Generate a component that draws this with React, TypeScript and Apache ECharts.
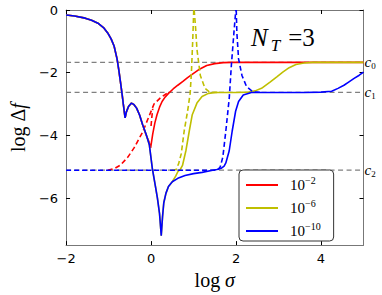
import React, { useEffect, useRef } from "react";
import * as echarts from "echarts";

const X_TICKS = [-2, 0, 2, 4];
const Y_TICKS = [0, -2, -4, -6];
const LEVELS = [-1.67, -2.63, -5.11];
const LEVEL_SUBS = ["0", "1", "2"];
const EXPONENTS = ["\u22122", "\u22126", "\u221210"];
const NAMES = ["10^-2", "10^-6", "10^-10"];
const COLORS = ["#ff0000", "#bfbf00", "#0000ff"];

// shared left part (blue curve, others lie beneath)
const sharedLeft: number[][] = [
  [-2, -0.16], [-1.8, -0.19], [-1.55, -0.26], [-1.4, -0.33], [-1.25, -0.42],
  [-1.12, -0.56], [-1.02, -0.73], [-0.94, -0.92], [-0.87, -1.15], [-0.8, -1.56],
  [-0.76, -1.9], [-0.72, -2.29], [-0.68, -2.7], [-0.65, -3.03], [-0.62, -3.35],
  [-0.61, -3.44], [-0.58, -3.25], [-0.53, -3.08], [-0.46, -2.97], [-0.4, -3.02],
  [-0.34, -3.13], [-0.27, -3.35], [-0.2, -3.65],
];

const redSolid: number[][] = [
  ...sharedLeft,
  [-0.12, -3.97], [-0.05, -4.2], [-0.01, -4.4], [0.04, -3.95], [0.09, -3.6],
  [0.14, -3.34], [0.2, -3.1], [0.26, -2.92], [0.33, -2.78], [0.41, -2.66],
  [0.52, -2.52], [0.63, -2.4], [0.75, -2.28], [0.86, -2.16], [1.0, -2.02],
  [1.15, -1.88], [1.31, -1.77], [1.5, -1.71], [1.7, -1.68], [1.9, -1.67],
  [2.5, -1.67], [5, -1.67],
];

const redDashed: number[][] = [
  [-1.02, -5.11], [-0.85, -5.05], [-0.72, -4.95], [-0.55, -4.7], [-0.4, -4.4],
  [-0.2, -3.9], [-0.05, -3.4], [0.07, -3.0], [0.22, -2.8], [0.37, -2.66],
];
const redDashed2: number[][] = [[0.0, -3.7], [0.02, -3.4], [0.04, -3.15]];

const blueMid: number[][] = [
  [-0.12, -3.95], [-0.04, -4.3], [0.03, -5.05], [0.1, -5.6], [0.15, -6.0],
  [0.2, -6.5], [0.24, -7.2], [0.27, -6.6], [0.3, -6.15], [0.35, -5.85],
  [0.41, -5.63], [0.5, -5.48],
];

const yellowSolid: number[][] = [
  ...sharedLeft, ...blueMid,
  [0.58, -5.3], [0.63, -5.16], [0.69, -5.08], [0.74, -4.96], [0.82, -4.49],
  [0.9, -3.86], [0.97, -3.34], [1.08, -2.97], [1.2, -2.76], [1.35, -2.66],
  [1.53, -2.63], [2.0, -2.63], [2.3, -2.62], [2.45, -2.58], [2.6, -2.5],
  [2.8, -2.3], [2.96, -2.13], [3.1, -1.98], [3.25, -1.84], [3.41, -1.74],
  [3.6, -1.69], [3.8, -1.67], [5, -1.67],
];

const yellowDashed: number[][] = [
  [0.5, -5.11], [0.59, -5.09], [0.65, -4.9], [0.71, -4.59], [0.78, -3.86],
  [0.86, -3.23], [0.92, -2.66], [0.95, -2.0], [0.98, -1.0], [1.005, 0],
];
const yellowDashed2: number[][] = [
  [1.015, 0], [1.05, -0.6], [1.08, -1.25], [1.16, -2.09], [1.27, -2.5],
  [1.38, -2.62], [1.6, -2.63],
];

const blueSolid: number[][] = [
  ...sharedLeft, ...blueMid,
  [0.63, -5.37], [0.8, -5.28], [1.0, -5.22], [1.2, -5.18], [1.42, -5.12],
  [1.55, -5.09], [1.65, -5.05], [1.72, -4.98], [1.76, -4.88], [1.84, -4.49],
  [1.91, -3.86], [1.99, -3.23], [2.06, -2.92], [2.17, -2.71], [2.36, -2.63],
  [3.0, -2.63], [3.6, -2.63], [4.0, -2.62], [4.25, -2.59], [4.4, -2.5],
  [4.54, -2.4], [4.65, -2.3], [4.77, -2.19], [4.9, -2.08], [5, -1.98],
];

const blueDashed: number[][] = [
  [-2, -5.11], [1.5, -5.11], [1.57, -5.1], [1.63, -5.0], [1.69, -4.69],
  [1.76, -3.86], [1.84, -2.82], [1.89, -1.77], [1.95, -0.73], [1.995, 0],
];
const blueDashed2: number[][] = [
  [2.005, 0], [2.02, -0.73], [2.06, -1.56], [2.14, -2.09], [2.25, -2.45],
  [2.4, -2.61], [2.6, -2.63],
];

const SERIF = "'Liberation Serif', 'DejaVu Serif', serif";
const SANS = "'DejaVu Sans', sans-serif";

const fmtTick = (v: number) => (v < 0 ? "\u2212" + Math.abs(v) : String(v));

export default function App() {
  const ref = useRef<HTMLDivElement>(null);
  useEffect(() => {
    if (!ref.current) return;
    const chart = echarts.init(ref.current, null, { renderer: "svg" });
    const dashT = [5, 3];
    const lw = 1.6;
    const solid = (name: string, data: number[][], color: string) => ({
      name, type: "line", data, symbol: "none", showSymbol: false,
      lineStyle: { color, width: lw }, itemStyle: { color, opacity: 0 },
    });
    const dashed = (name: string, data: number[][], color: string) => ({
      name, type: "line", data, symbol: "none", showSymbol: false,
      lineStyle: { color, width: lw, type: dashT }, itemStyle: { color },
    });
    const levelSeries = LEVELS.map((lv, i) => ({
      name: "c" + LEVEL_SUBS[i], type: "line", symbol: "none", showSymbol: false,
      data: [[-2, lv], [5, lv]],
      lineStyle: { color: "#808080", width: 1.3, type: [5, 3.5] },
      endLabel: {
        show: true, distance: 1,
        formatter: () => `{c|c}{s|${LEVEL_SUBS[i]}}`,
        rich: {
          c: { fontFamily: SERIF, fontStyle: "italic", fontSize: 15, color: "#000" },
          s: { fontFamily: SERIF, fontSize: 9, color: "#000", padding: [8, 0, 0, 0] },
        },
      },
      silent: true,
    }));
    const axisCommon = {
      type: "value", min: -2, max: 5,
      axisLine: { show: true, onZero: false, lineStyle: { color: "#777", width: 1 } },
      splitLine: { show: false },
    };
    const yCommon = {
      type: "value", min: -7.5, max: 0,
      axisLine: { show: true, onZero: false, lineStyle: { color: "#777", width: 1 } },
      splitLine: { show: false },
    };
    chart.setOption({
      animation: false,
      grid: { left: 53, right: 18.5, top: 10, bottom: 46, containLabel: false },
      xAxis: [
        {
          ...axisCommon, position: "bottom",
          axisTick: { show: true, inside: true, length: 4, customValues: X_TICKS, lineStyle: { color: "#000" } },
          axisLabel: { customValues: X_TICKS, formatter: fmtTick, fontFamily: SANS, fontSize: 13, color: "#000", margin: 7 },
          name: "{r|log }{i|σ}", nameLocation: "middle", nameGap: 17,
          nameTextStyle: {
            fontFamily: SERIF, fontSize: 20, color: "#000",
            rich: {
              r: { fontFamily: SERIF, fontSize: 20, color: "#000" },
              i: { fontFamily: SERIF, fontSize: 20, fontStyle: "italic", color: "#000" },
            },
          },
        },
        {
          ...axisCommon, position: "top",
          axisTick: { show: true, inside: true, length: 4, customValues: X_TICKS, lineStyle: { color: "#000" } },
          axisLabel: { show: false },
        },
      ],
      yAxis: [
        {
          ...yCommon, position: "left",
          axisTick: { show: true, inside: true, length: 4, customValues: Y_TICKS, lineStyle: { color: "#000" } },
          axisLabel: { customValues: Y_TICKS, formatter: fmtTick, fontFamily: SANS, fontSize: 13, color: "#000", margin: 8 },
          name: "{r|log Δ}{i|f}", nameLocation: "middle", nameGap: 33,
          nameTextStyle: {
            fontFamily: SERIF, fontSize: 20, color: "#000",
            rich: {
              r: { fontFamily: SERIF, fontSize: 20, color: "#000" },
              i: { fontFamily: SERIF, fontSize: 20, fontStyle: "italic", color: "#000" },
            },
          },
        },
        {
          ...yCommon, position: "right",
          axisTick: { show: true, inside: true, length: 4, customValues: Y_TICKS, lineStyle: { color: "#000" } },
          axisLabel: { show: false },
        },
      ],
      legend: {
        data: NAMES, orient: "vertical", left: 239, top: 170,
        itemWidth: 32, itemHeight: 20, itemGap: 5,
        padding: [5, 13, 2, 6],
        borderColor: "#333", borderWidth: 1, borderRadius: 4, backgroundColor: "#fff",
        itemStyle: { opacity: 0 },
        formatter: (name: string) => `{b|10}{s|${EXPONENTS[NAMES.indexOf(name)]}}`,
        textStyle: {
          rich: {
            b: { fontFamily: SERIF, fontSize: 15, lineHeight: 20, color: "#000", padding: [0, 0, 0, 7] },
            s: { fontFamily: SERIF, fontSize: 10, color: "#000", verticalAlign: "top" },
          },
        },
      },
      graphic: [
        {
          type: "text", left: 251, top: 25,
          style: {
            text: "{n|N}{t|T}{e|=3}",
            rich: {
              n: { fontFamily: SERIF, fontStyle: "italic", fontSize: 25, lineHeight: 32, fill: "#000" },
              t: { fontFamily: SERIF, fontStyle: "italic", fontSize: 17, fill: "#000", verticalAlign: "bottom", padding: [0, 0, 0, 3] },
              e: { fontFamily: SERIF, fontSize: 25, lineHeight: 32, fill: "#000", padding: [0, 0, 0, 8] },
            },
          },
        },
      ],
      series: [
        ...levelSeries,
        solid(NAMES[0], redSolid, COLORS[0]),
        dashed("r-d1", redDashed, COLORS[0]),
        dashed("r-d2", redDashed2, COLORS[0]),
        solid(NAMES[1], yellowSolid, COLORS[1]),
        dashed("y-d1", yellowDashed, COLORS[1]),
        dashed("y-d2", yellowDashed2, COLORS[1]),
        solid(NAMES[2], blueSolid, COLORS[2]),
        dashed("b-d1", blueDashed, COLORS[2]),
        dashed("b-d2", blueDashed2, COLORS[2]),
      ],
    });
    return () => chart.dispose();
  }, []);
  return <div ref={ref} style={{ width: 382, height: 295, position: "absolute", left: 0, top: 0 }} />;
}
